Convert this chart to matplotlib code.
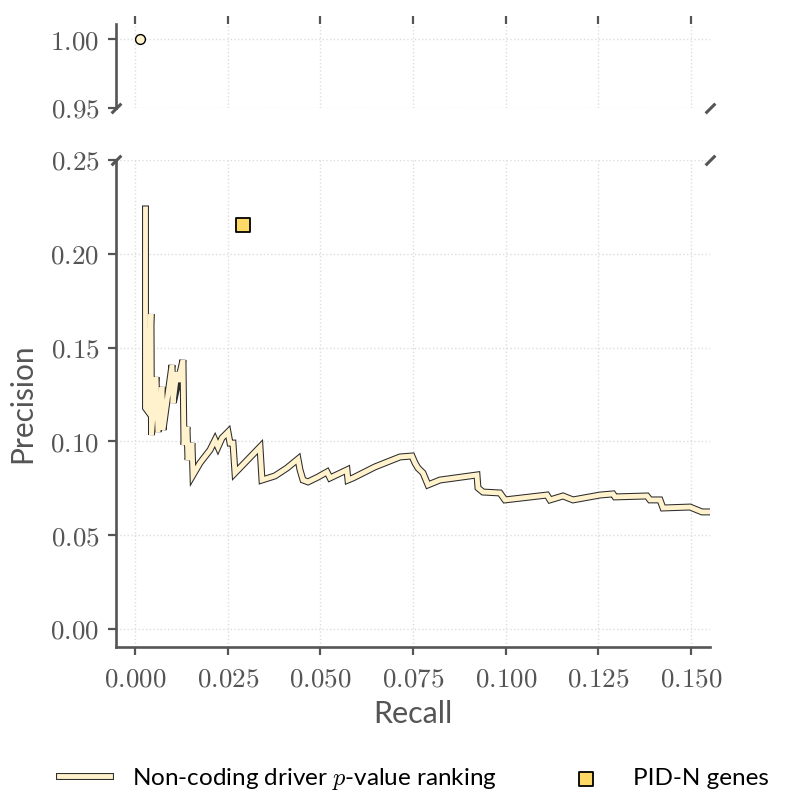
import matplotlib
matplotlib.use("Agg")
import matplotlib.pyplot as plt
from matplotlib import patheffects as pe
from matplotlib.ticker import FuncFormatter, MultipleLocator

# PR curve of the non-coding driver p-value ranking
recall = [0.00283, 0.00283, 0.00324, 0.00431, 0.00445, 0.00566, 0.0062, 0.00728,
          0.00755, 0.00998, 0.01025, 0.01133, 0.0116, 0.01294, 0.01321, 0.01402,
          0.01429, 0.01537, 0.01564, 0.01753, 0.02023, 0.02157, 0.02238, 0.02346,
          0.02508, 0.02562, 0.02643, 0.02697, 0.03371, 0.03425, 0.03776, 0.04099,
          0.04396, 0.0445, 0.04531, 0.04666, 0.04935, 0.05178, 0.05259, 0.05717,
          0.05744, 0.05879, 0.06472, 0.07147, 0.0747, 0.07551, 0.07632, 0.07767,
          0.07902, 0.08225, 0.09223, 0.0925, 0.09385, 0.09844, 0.09978, 0.11111,
          0.11192, 0.11543, 0.11812, 0.1254, 0.12891, 0.12945, 0.13808, 0.13889,
          0.14159, 0.14239, 0.14968, 0.15291, 0.15507]
precision = [0.2239, 0.1178, 0.1167, 0.1679, 0.1034, 0.1343, 0.1050, 0.1290,
             0.1061, 0.1407, 0.1205, 0.1370, 0.1317, 0.1434, 0.0981, 0.1077,
             0.0901, 0.0991, 0.0821, 0.0885, 0.0954, 0.1007, 0.0970, 0.1018,
             0.1050, 0.0991, 0.0991, 0.0832, 0.0970, 0.0794, 0.0816, 0.0858,
             0.0906, 0.0848, 0.0794, 0.0784, 0.0810, 0.0837, 0.0805, 0.0848,
             0.0794, 0.0805, 0.0864, 0.0917, 0.0922, 0.0885, 0.0858, 0.0832,
             0.0768, 0.0794, 0.0821, 0.0752, 0.0730, 0.0725, 0.0688, 0.0714,
             0.0688, 0.0709, 0.0688, 0.0714, 0.0720, 0.0704, 0.0709, 0.0688,
             0.0688, 0.0645, 0.0650, 0.0624, 0.0624]

# single points
first_hit = (0.0013, 1.0)
pidn_genes = (0.0291, 0.2154)

curve_label = 'Non-coding driver $p$-value ranking'
pidn_label = 'PID-N genes'

cream = '#fff2cc'
gold = '#ffd966'
axis_grey = '#555555'

plt.rcParams['mathtext.fontset'] = 'cm'
plt.rcParams['font.family'] = ['Lato', 'DejaVu Sans']

fig = plt.figure(figsize=(7.86, 7.97), dpi=100)
ax_top = fig.add_axes([0.1476, 0.8651, 0.7557, 0.1042])
ax = fig.add_axes([0.1476, 0.1882, 0.7557, 0.6111], sharex=ax_top)

line_fx = [pe.Stroke(linewidth=5.0, foreground='#2b2b2b'), pe.Normal()]

ax.plot(recall, precision, color=cream, lw=3.5, path_effects=line_fx,
        solid_joinstyle='miter', label=curve_label, zorder=3)
ax.scatter([pidn_genes[0]], [pidn_genes[1]], marker='s', s=110, color=gold,
           edgecolor='black', linewidth=1.3, label=pidn_label, zorder=4)
ax_top.scatter([first_hit[0]], [first_hit[1]], marker='o', s=50, color=cream,
               edgecolor='black', linewidth=1.0, zorder=4, clip_on=False)

ax.set_xlim(-0.00512, 0.15507)
ax.set_ylim(-0.0096, 0.25)
ax_top.set_ylim(0.95, 1.011)

ax.xaxis.set_major_locator(MultipleLocator(0.025))
ax.yaxis.set_major_locator(MultipleLocator(0.05))

ax.xaxis.set_major_formatter(FuncFormatter(lambda v, p: '$%.3f$' % v))
ax.yaxis.set_major_formatter(FuncFormatter(lambda v, p: '$%.2f$' % v))
ax_top.yaxis.set_major_formatter(FuncFormatter(lambda v, p: '$%.2f$' % v))

for a in (ax, ax_top):
    for s in ('top', 'right', 'bottom'):
        a.spines[s].set_visible(False)
    a.spines['left'].set_color(axis_grey)
    a.spines['left'].set_linewidth(1.9)
    a.grid(True, linestyle=':', color='#dddddd', linewidth=1.0)
    a.set_axisbelow(True)
    a.tick_params(colors=axis_grey, labelcolor=axis_grey, labelsize=19.5,
                  length=6, width=1.6, direction='out', pad=6)

ax.spines['bottom'].set_visible(True)
ax.spines['bottom'].set_color(axis_grey)
ax.spines['bottom'].set_linewidth(1.9)
ax.tick_params(axis='x', pad=8)

ax_top.xaxis.tick_top()
ax_top.tick_params(axis='x', labeltop=False, labelbottom=False)
ax_top.set_yticks([0.95, 1.0])

ax.set_xlabel('Recall', fontsize=22, color=axis_grey, labelpad=6)
ax.set_ylabel('Precision', fontsize=21.5, color=axis_grey, labelpad=10)

# break marks
kw = dict(marker=[(-1, -1), (1, 1)], markersize=7, linestyle='none',
          color=axis_grey, mec=axis_grey, mew=2.2, clip_on=False)
ax_top.plot([0, 1], [0, 0], transform=ax_top.transAxes, **kw)
ax.plot([0, 1], [1, 1], transform=ax.transAxes, **kw)

fig.legend(*ax.get_legend_handles_labels(), loc='center', ncol=2,
           bbox_to_anchor=(0.527, 0.0226), frameon=False, fontsize=17.5,
           columnspacing=2.6, handlelength=2.1, handletextpad=0.9)

fig.savefig('out.png', dpi=100)
